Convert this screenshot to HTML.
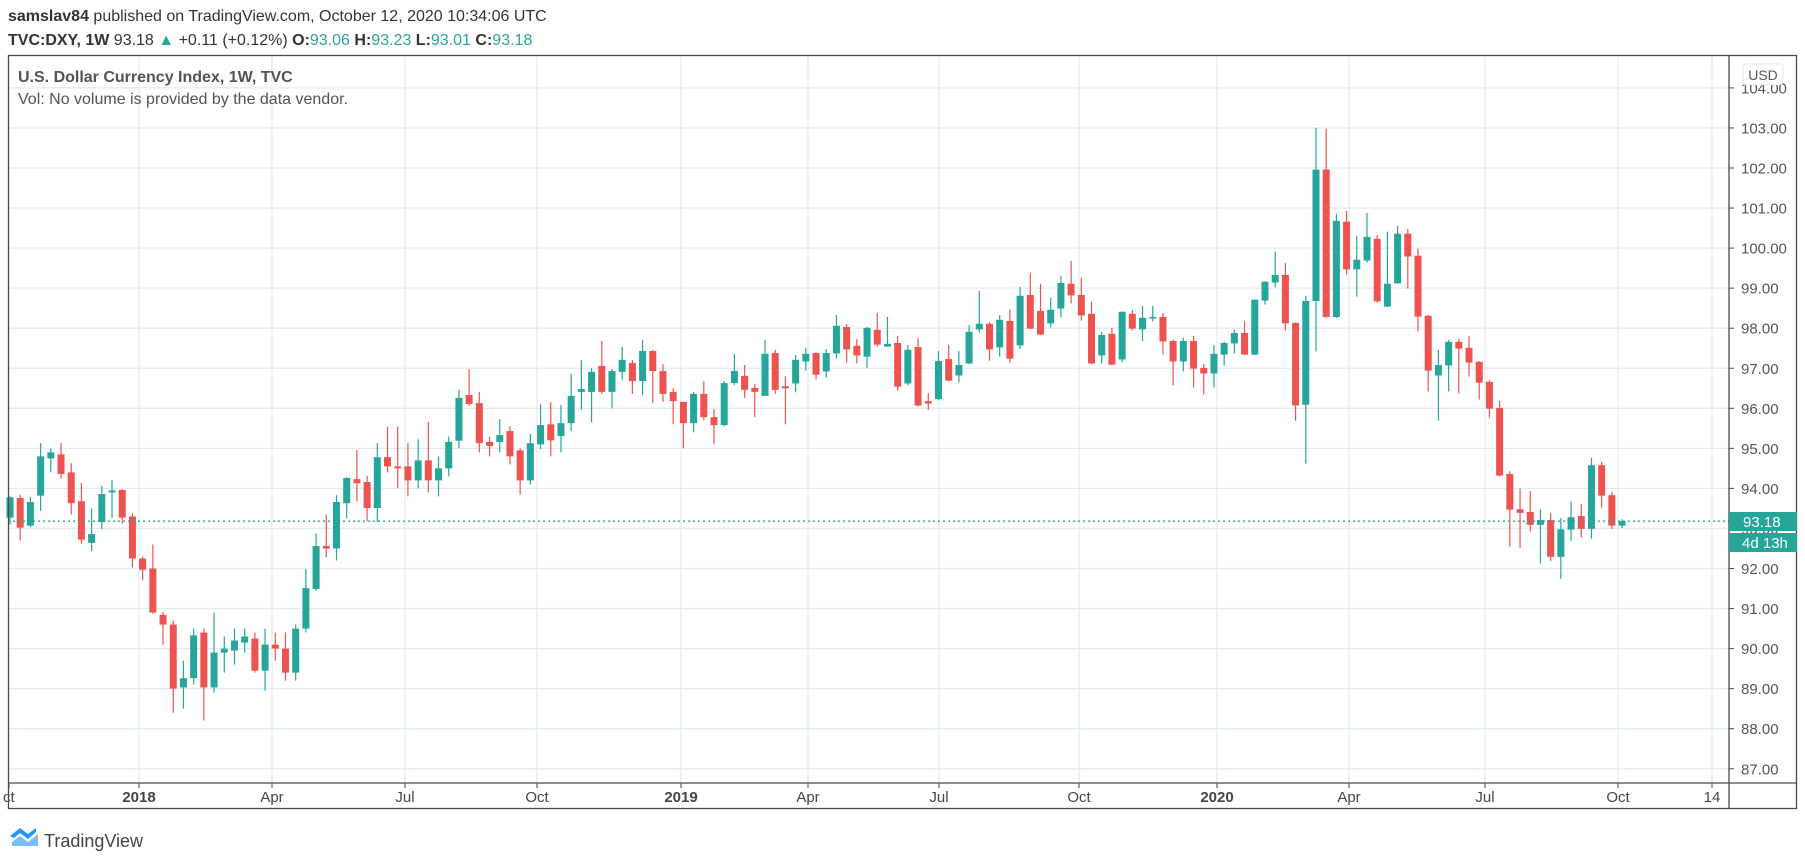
<!DOCTYPE html>
<html><head><meta charset="utf-8"><style>
body{margin:0;background:#fff;}
svg{display:block;font-family:"Liberation Sans",sans-serif;}
</style></head><body>
<svg id="s" width="1805" height="861" viewBox="0 0 1805 861" xmlns="http://www.w3.org/2000/svg">
<rect width="1805" height="861" fill="#fff"/>
<text x="8" y="21" font-size="16" fill="#333"><tspan font-weight="bold">samslav84</tspan> published on TradingView.com, October 12, 2020 10:34:06 UTC</text>
<text x="8" y="45" font-size="16" fill="#333"><tspan font-weight="bold">TVC:DXY, 1W</tspan> 93.18 <tspan fill="#26a69a">▲</tspan> +0.11 (+0.12%) <tspan font-weight="bold">O:</tspan><tspan fill="#26a69a">93.06</tspan> <tspan font-weight="bold">H:</tspan><tspan fill="#26a69a">93.23</tspan> <tspan font-weight="bold">L:</tspan><tspan fill="#26a69a">93.01</tspan> <tspan font-weight="bold">C:</tspan><tspan fill="#26a69a">93.18</tspan></text>
<g id="grid"></g>
<g id="candles"></g>
<line x1="8" y1="521.2" x2="1729" y2="521.2" stroke="#26a69a" stroke-width="1.3" stroke-dasharray="2,3"/>
<text x="18" y="82" font-size="16" font-weight="bold" fill="#50535e">U.S. Dollar Currency Index, 1W, TVC</text>
<text x="18" y="104" font-size="16" fill="#50535e">Vol: No volume is provided by the data vendor.</text>
<g id="axis"></g>
<rect x="8.5" y="55.5" width="1788" height="753" fill="none" stroke="#4a4a4a" stroke-width="1.3"/>
<line x1="1729" y1="55" x2="1729" y2="809" stroke="#4a4a4a" stroke-width="1.3"/>
<line x1="8" y1="783" x2="1797" y2="783" stroke="#4a4a4a" stroke-width="1.3"/>
<rect x="1743" y="64" width="40" height="21" rx="3" fill="#fff" stroke="#c8ccd4" stroke-dasharray="1,1"/>
<text x="1763" y="80" font-size="14" fill="#555" text-anchor="middle">USD</text>
<rect x="1729" y="512" width="68" height="19" fill="#26a69a"/>
<text x="1743" y="527" font-size="15" fill="#fff">93.18</text>
<rect x="1729" y="533" width="68" height="19" fill="#26a69a"/>
<text x="1742" y="548" font-size="15" fill="#fff">4d 13h</text>
<g transform="translate(10,828)">
<path d="M0 8 L10 0 L18 6 L26 0 L26 4 L18 11 L10 5 L4 10 Z" fill="#2196f3"/>
<path d="M2 14 L10 8 L18 14 L28 6 L28 18 L2 18 Z" fill="#2196f3" opacity="0.6"/>
</g>
<text x="44" y="847" font-size="18" fill="#444">TradingView</text>
</svg>
<script>
var d=[
[93.27,93.78,93.8,93.1],[93.76,93.02,93.84,92.7],[93.07,93.66,93.78,93.03],[93.82,94.8,95.13,93.44],[94.75,94.9,95.0,94.4],
[94.85,94.36,95.13,94.24],[94.4,93.63,94.63,93.35],[93.68,92.72,94.13,92.62],[92.64,92.86,93.49,92.44],[93.16,93.86,94.06,92.99],
[93.9,93.95,94.21,93.26],[93.96,93.27,93.99,93.12],[93.3,92.25,93.38,92.03],[92.25,91.97,92.3,91.7],[92.0,90.9,92.6,90.87],
[90.84,90.6,90.92,90.1],[90.6,89.0,90.7,88.4],[89.03,89.26,89.7,88.5],[89.26,90.33,90.5,89.1],[90.4,89.03,90.5,88.2],
[89.03,89.9,90.9,88.9],[89.9,90.0,90.3,89.4],[89.95,90.2,90.5,89.6],[90.15,90.3,90.5,89.9],[90.25,89.45,90.4,89.4],
[89.45,90.1,90.5,88.95],[90.1,90.0,90.4,89.7],[90.0,89.4,90.4,89.2],[89.4,90.5,90.6,89.2],[90.5,91.51,91.99,90.4],
[91.49,92.56,92.88,91.44],[92.56,92.5,93.35,92.28],[92.5,93.66,93.83,92.2],[93.63,94.26,94.28,93.26],[94.23,94.13,94.96,93.68],
[94.16,93.51,94.31,93.18],[93.51,94.78,95.13,93.16],[94.78,94.55,95.54,94.4],[94.55,94.5,95.54,94.0],[94.55,94.2,95.13,93.8],
[94.2,94.7,95.23,94.0],[94.7,94.2,95.66,93.9],[94.2,94.5,94.8,93.8],[94.5,95.16,95.3,94.3],[95.19,96.26,96.46,95.0],
[96.33,96.11,96.98,96.06],[96.13,95.13,96.41,94.9],[95.16,95.06,95.29,94.8],[95.16,95.33,95.73,94.9],[95.43,94.8,95.55,94.6],
[94.95,94.2,95.0,93.85],[94.2,95.13,95.36,94.1],[95.1,95.58,96.1,94.98],[95.6,95.2,96.15,94.8],[95.31,95.63,96.08,94.9],
[95.63,96.31,96.86,95.43],[96.41,96.48,97.2,95.96],[96.41,96.91,97.0,95.65],[97.06,96.41,97.68,96.36],[96.41,96.93,96.98,96.0],
[96.91,97.21,97.53,96.7],[97.13,96.68,97.21,96.36],[96.68,97.43,97.71,96.33],[97.43,96.93,97.46,96.13],[96.93,96.36,97.1,96.16],
[96.41,96.18,96.5,95.6],[96.16,95.63,96.16,95.0],[95.63,96.36,96.4,95.4],[96.36,95.78,96.68,95.7],[95.78,95.58,95.98,95.1],
[95.58,96.63,96.68,95.55],[96.63,96.93,97.36,96.58],[96.81,96.46,97.08,96.26],[96.51,96.41,96.61,95.78],[96.31,97.36,97.71,96.31],
[97.38,96.46,97.46,96.36],[96.55,96.5,96.8,95.6],[96.62,97.21,97.33,96.4],[97.17,97.36,97.51,96.94],[97.38,96.84,97.4,96.72],
[96.92,97.38,97.48,96.77],[97.37,98.06,98.33,97.24],[98.03,97.47,98.11,97.14],[97.56,97.32,97.73,97.12],[97.29,98.01,98.03,97.0],
[97.96,97.59,98.38,97.54],[97.54,97.61,98.28,97.54],[97.63,96.54,97.81,96.44],[96.62,97.46,97.58,96.57],[97.53,96.07,97.76,96.05],
[96.18,96.12,96.38,95.96],[96.23,97.18,97.43,96.2],[97.23,96.69,97.58,96.68],[96.82,97.08,97.43,96.65],[97.12,97.91,98.08,97.1],
[97.97,98.11,98.93,97.89],[98.11,97.47,98.15,97.19],[97.52,98.21,98.33,97.29],[98.18,97.24,98.46,97.14],[97.57,98.81,99.03,97.48],
[98.83,97.99,99.38,97.98],[98.43,97.84,99.11,97.83],[98.12,98.46,98.76,98.02],[98.49,99.13,99.31,98.27],[99.11,98.82,99.68,98.62],
[98.83,98.32,99.26,98.19],[98.36,97.12,98.66,97.1],[97.32,97.83,97.91,97.12],[97.86,97.09,98.01,97.08],[97.22,98.41,98.42,97.15],
[98.36,97.99,98.46,97.94],[97.97,98.26,98.56,97.67],[98.24,98.28,98.56,98.17],[98.28,97.67,98.38,97.34],[97.68,97.17,97.72,96.57],
[97.17,97.68,97.76,96.92],[97.68,96.99,97.81,96.52],[97.01,96.87,97.11,96.34],[96.87,97.36,97.58,96.52],[97.34,97.63,97.66,97.07],
[97.62,97.88,97.96,97.37],[97.88,97.34,98.18,97.33],[97.34,98.71,98.72,97.33],[98.69,99.16,99.17,98.59],[99.14,99.33,99.91,99.02],
[99.33,98.12,99.63,97.94],[98.13,96.07,98.14,95.69],[96.09,98.68,98.81,94.62],[98.68,101.96,103.0,97.42],[101.96,98.28,102.98,98.26],
[98.28,100.68,100.86,98.26],[100.66,99.47,100.93,99.34],[99.47,99.71,100.31,98.79],[99.69,100.28,100.88,99.64],[100.23,98.67,100.33,98.64],
[98.54,99.11,100.41,98.53],[99.12,100.36,100.56,99.11],[100.36,99.79,100.48,98.99],[99.81,98.29,99.98,97.92],[98.31,96.94,98.33,96.42],
[96.82,97.08,97.46,95.69],[97.07,97.66,97.71,96.42],[97.66,97.49,97.73,96.37],[97.51,97.14,97.81,96.79],[97.16,96.64,97.18,96.22],
[96.66,95.99,96.7,95.77],[96.01,94.32,96.18,94.3],[94.36,93.47,94.43,92.54],[93.48,93.39,94.0,92.52],[93.41,93.09,93.93,92.92],
[93.09,93.21,93.48,92.12],[93.21,92.29,93.38,92.19],[92.29,92.98,93.26,91.74],[92.97,93.28,93.68,92.69],[93.31,92.99,93.61,92.77],
[92.99,94.58,94.76,92.74],[94.58,93.82,94.66,93.52],[93.83,93.07,93.91,92.99],[93.07,93.18,93.23,93.01]];
function Y(p){return 408.3+(96-p)*40.05;}
var NS="http://www.w3.org/2000/svg";
function el(par,tag,a,txt){var e=document.createElementNS(NS,tag);for(var k in a)e.setAttribute(k,a[k]);if(txt)e.textContent=txt;par.appendChild(e);return e;}
var g=document.getElementById("grid"),c=document.getElementById("candles"),ax=document.getElementById("axis");
for(var p=87;p<=104;p++){var y=Y(p);el(g,"line",{x1:8,y1:y,x2:1729,y2:y,stroke:"#e1ecf2","stroke-width":1.3});
 el(ax,"line",{x1:1729,y1:y,x2:1734,y2:y,stroke:"#4a4a4a"});
 el(ax,"text",{x:1741,y:y+5.5,"font-size":15,fill:"#555"},p.toFixed(2));}
var T=[[9,"ct",0],[139,"2018",1],[272,"Apr",0],[405,"Jul",0],[537,"Oct",0],[681,"2019",1],[808,"Apr",0],[939,"Jul",0],[1079,"Oct",0],[1217,"2020",1],[1349,"Apr",0],[1485,"Jul",0],[1618,"Oct",0],[1712,"14",0]];
T.forEach(function(t){if(t[0]>12)el(g,"line",{x1:t[0],y1:56,x2:t[0],y2:783,stroke:"#e1ecf2","stroke-width":1.3});
 el(ax,"line",{x1:t[0],y1:783,x2:t[0],y2:788,stroke:"#4a4a4a"});
 el(ax,"text",{x:t[1]=="ct"?3:t[0],y:802,"font-size":15,fill:"#444","text-anchor":t[1]=="ct"?"start":"middle","font-weight":t[2]?"bold":"normal"},t[1]);});
d.forEach(function(k,i){var x=10+10.203*i,col=k[1]>=k[0]?"#26a69a":"#ef5350";
 el(c,"rect",{x:x-0.6,y:Y(k[2]),width:1.2,height:Math.max(1,Y(k[3])-Y(k[2])),fill:col});
 var t=Y(Math.max(k[0],k[1])),b=Y(Math.min(k[0],k[1]));
 el(c,"rect",{x:x-3.5,y:t,width:7,height:Math.max(1.5,b-t),fill:col});});
</script>
</body></html>
